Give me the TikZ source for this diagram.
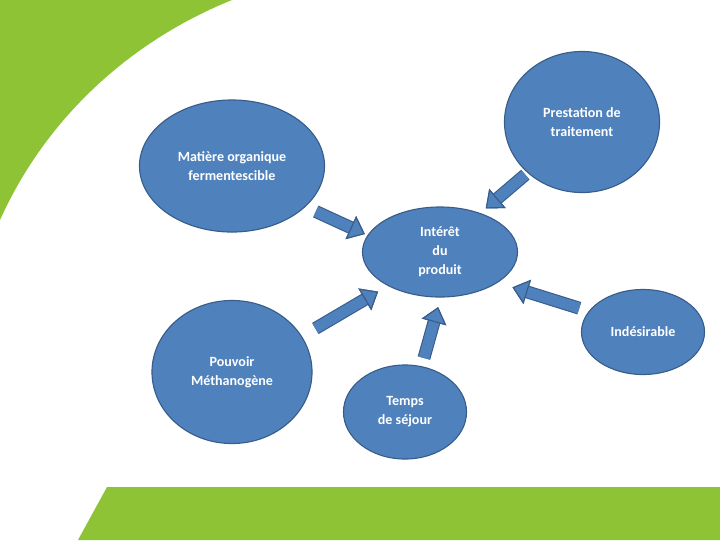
\documentclass[tikz,border=0pt]{standalone}
\usepackage{fontspec}
\setmainfont{Carlito}
\usetikzlibrary{arrows.meta, shapes.geometric}
\definecolor{leaf}{RGB}{141,195,52}
\definecolor{bubblefill}{RGB}{79,129,189}
\definecolor{rim}{RGB}{56,93,138}

\begin{document}
\begin{tikzpicture}[x=0.025cm, y=-0.025cm,
    bubble/.style={ellipse, draw=rim, fill=bubblefill, thick, text=white, inner sep=0pt,
        align=center, font=\fontsize{10}{13.5}\selectfont\bfseries},
    flow/.style={draw=bubblefill, line width=7.6pt,
        -{Triangle[length=11pt, width=18pt, line width=0.8pt, fill=bubblefill, color=rim]},
        preaction={draw=rim, line width=9.2pt}}
]
\useasboundingbox (0,0) rectangle (720,540);

% Background
\fill[leaf] (0,0) -- (232,0) .. controls (128,42) and (45,120) .. (0,220) -- cycle;
\fill[leaf] (107,487) -- (720,487) -- (720,540) -- (78,540) -- cycle;

% Bubbles
\node[bubble, minimum width=4.625cm, minimum height=3.3cm] (mat) at (232,166) {Matière organique\\fermentescible};
\node[bubble, minimum width=3.875cm, minimum height=3.525cm] (pre) at (582,122) {Prestation de\\traitement};
\node[bubble, minimum width=3.875cm, minimum height=2.25cm] (int) at (440,252) {Intérêt\\du\\produit};
\node[bubble, minimum width=3.075cm, minimum height=2.125cm] (ind) at (643,332) {Indésirable};
\node[bubble, minimum width=4cm, minimum height=3.575cm] (pou) at (232,372) {Pouvoir\\Méthanogène};
\node[bubble, minimum width=3.075cm, minimum height=2.35cm] (tps) at (405,412) {Temps\\de séjour};

% Arrows
\draw[flow, shorten <=8pt, shorten >=2pt] (mat.-29) -- (int.167);
\draw[flow, shorten <=2pt, shorten >=5pt] (pre.223) -- (int.44);
\draw[flow, shorten <=11pt, shorten >=8pt] (pou.27) -- (int.213);
\draw[flow, shorten <=6pt, shorten >=7pt] (tps.70) -- (int.-89);
\draw[flow, shorten <=7pt, shorten >=11pt] (ind.159) -- (int.-28);

\end{tikzpicture}
\end{document}
